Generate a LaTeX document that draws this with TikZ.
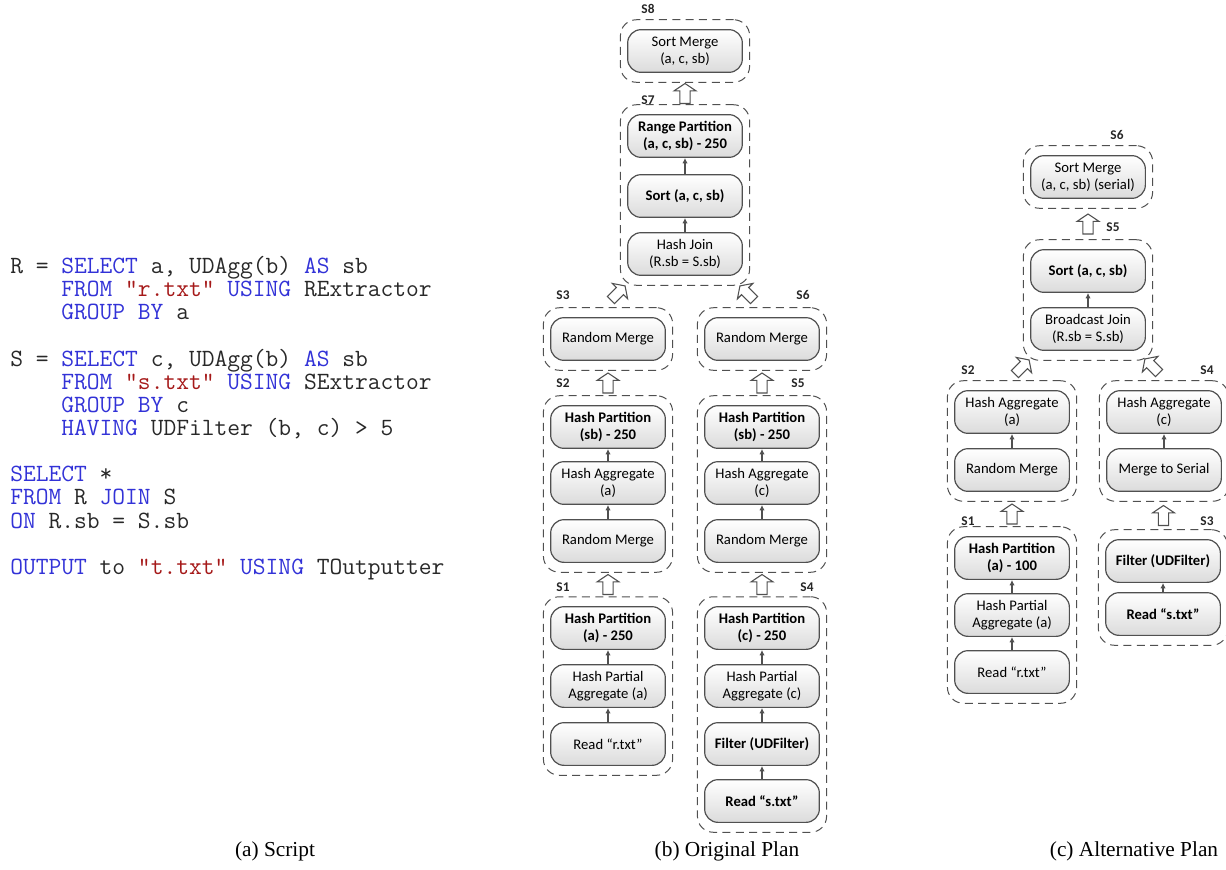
\documentclass[tikz,border=0pt]{standalone}
\usepackage{fontspec}
\setmainfont{Liberation Serif}
\newfontfamily\plainfont{Carlito}
\usepackage{tikz}
\usetikzlibrary{arrows.meta,fit,calc}

\definecolor{kwblue}{RGB}{50,50,215}
\definecolor{strred}{RGB}{165,25,25}
\definecolor{codegray}{RGB}{40,40,40}
\definecolor{edgegray}{RGB}{80,80,80}
\newcommand{\sqlkw}[1]{\textcolor{kwblue}{#1}}
\newcommand{\sqlstr}[1]{\textcolor{strred}{#1}}

\tikzset{
  op/.style = {draw=edgegray, line width=0.9pt, rounded corners=10pt, top color=white, bottom color=black!14,
    minimum width=86pt, minimum height=32pt, inner sep=1pt, align=center, font=\plainfont\fontsize{11}{13}\selectfont},
  opbold/.style = {op, font=\plainfont\bfseries\fontsize{11}{13}\selectfont},
  stage/.style = {draw=edgegray, line width=0.75pt, dash pattern=on 6pt off 4pt, rounded corners=12pt,
    inner xsep=5pt, inner ysep=7pt},
  stagename/.style = {font=\plainfont\bfseries\fontsize{10}{12}\selectfont, text=black!85},
  flow/.style = {-{Latex[length=4pt,width=4pt]}, draw=edgegray, line width=0.8pt},
  shuffle/.pic = {
    \draw[edgegray, fill=white, line width=0.8pt, line join=miter]
      (-3.8pt,-7.5pt) -- (-3.8pt,2pt) -- (-8.2pt,2pt) -- (0pt,7.5pt) -- (8.2pt,2pt)
      -- (3.8pt,2pt) -- (3.8pt,-7.5pt) -- cycle;
  },
  caption/.style = {font=\fontsize{16}{19}\selectfont}
}

\begin{document}
\begin{tikzpicture}[x=0.75pt, y=-0.75pt]
\useasboundingbox (0,0) rectangle (1226,869);

% (a) script
\node[anchor=north west, inner sep=0pt, align=left, text=codegray, font=\ttfamily\fontsize{18.6}{17.36}\selectfont] (script) at (10,256) {%
R = \sqlkw{SELECT} a, UDAgg(b) \sqlkw{AS} sb\\
\phantom{R = }\sqlkw{FROM} \sqlstr{"r.txt"} \sqlkw{USING} RExtractor\\
\phantom{R = }\sqlkw{GROUP BY} a\\[17.36pt]
S = \sqlkw{SELECT} c, UDAgg(b) \sqlkw{AS} sb\\
\phantom{S = }\sqlkw{FROM} \sqlstr{"s.txt"} \sqlkw{USING} SExtractor\\
\phantom{S = }\sqlkw{GROUP BY} c\\
\phantom{S = }\sqlkw{HAVING} UDFilter (b, c) > 5\\[17.36pt]
\sqlkw{SELECT} *\\
\sqlkw{FROM} R \sqlkw{JOIN} S\\
\sqlkw{ON} R.sb = S.sb\\[17.36pt]
\sqlkw{OUTPUT} to \sqlstr{"t.txt"} \sqlkw{USING} TOutputter};

% (b) original plan
\node[op] (b8m) at (685,51) {Sort Merge\\(a, c, sb)};
\node[opbold] (b7p) at (685,136) {Range Partition\\(a, c, sb) - 250};
\node[opbold] (b7s) at (685,196) {Sort (a, c, sb)};
\node[op] (b7j) at (685,254) {Hash Join\\(R.sb = S.sb)};

\node[op] (b3m) at (608,339) {Random Merge};
\node[opbold] (b2p) at (608,427) {Hash Partition\\(sb) - 250};
\node[op] (b2h) at (608,483) {Hash Aggregate\\(a)};
\node[op] (b2m) at (608,541) {Random Merge};
\node[opbold] (b1p) at (608,628) {Hash Partition\\(a) - 250};
\node[op] (b1h) at (608,686) {Hash Partial\\Aggregate (a)};
\node[op] (b1r) at (608,744) {Read “r.txt”};

\node[op] (b6m) at (762,339) {Random Merge};
\node[opbold] (b5p) at (762,427) {Hash Partition\\(sb) - 250};
\node[op] (b5h) at (762,483) {Hash Aggregate\\(c)};
\node[op] (b5m) at (762,541) {Random Merge};
\node[opbold] (b4p) at (762,628) {Hash Partition\\(c) - 250};
\node[op] (b4h) at (762,686) {Hash Partial\\Aggregate (c)};
\node[opbold] (b4f) at (762,744) {Filter (UDFilter)};
\node[opbold] (b4r) at (762,801) {Read “s.txt”};

\draw[flow] (b7s) -- (b7p);
\draw[flow] (b7j) -- (b7s);
\draw[flow] (b2h) -- (b2p);
\draw[flow] (b2m) -- (b2h);
\draw[flow] (b1h) -- (b1p);
\draw[flow] (b1r) -- (b1h);
\draw[flow] (b5h) -- (b5p);
\draw[flow] (b5m) -- (b5h);
\draw[flow] (b4h) -- (b4p);
\draw[flow] (b4f) -- (b4h);
\draw[flow] (b4r) -- (b4f);

\node[stage, fit=(b8m)] (bs8) {};
\node[stage, fit=(b7p)(b7j)] (bs7) {};
\node[stage, fit=(b3m)] (bs3) {};
\node[stage, fit=(b2p)(b2m)] (bs2) {};
\node[stage, fit=(b1p)(b1r)] (bs1) {};
\node[stage, fit=(b6m)] (bs6) {};
\node[stage, fit=(b5p)(b5m)] (bs5) {};
\node[stage, fit=(b4p)(b4r)] (bs4) {};

\node[stagename] (bl8) at (648,9) {S8};
\node[stagename] (bl7) at (648,100) {S7};
\node[stagename] (bl3) at (563,295) {S3};
\node[stagename] (bl6) at (803,295) {S6};
\node[stagename] (bl2) at (563,383) {S2};
\node[stagename] (bl5) at (798,383) {S5};
\node[stagename] (bl1) at (563,587) {S1};
\node[stagename] (bl4) at (807,587) {S4};

\pic at ($(bs7.north)!0.5!(bs8.south)$) {shuffle};
\pic at ($(bs2.north)!0.5!(bs3.south)$) {shuffle};
\pic at ($(bs1.north)!0.5!(bs2.south)$) {shuffle};
\pic at ($(bs5.north)!0.5!(bs6.south)$) {shuffle};
\pic at ($(bs4.north)!0.5!(bs5.south)$) {shuffle};
\pic[rotate=-45] at (618,293) {shuffle};
\pic[rotate=45] at (747,293) {shuffle};

% (c) alternative plan
\node[op] (c6m) at (1088,177) {Sort Merge\\(a, c, sb) (serial)};
\node[opbold] (c5s) at (1088,271) {Sort (a, c, sb)};
\node[op] (c5j) at (1088,329) {Broadcast Join\\(R.sb = S.sb)};

\node[op] (c2h) at (1012,412) {Hash Aggregate\\(a)};
\node[op] (c2m) at (1012,470) {Random Merge};
\node[opbold] (c1p) at (1012,558) {Hash Partition\\(a) - 100};
\node[op] (c1h) at (1012,615) {Hash Partial\\Aggregate (a)};
\node[op] (c1r) at (1012,672) {Read “r.txt”};

\node[op] (c4h) at (1164,412) {Hash Aggregate\\(c)};
\node[op] (c4m) at (1164,470) {Merge to Serial};
\node[opbold] (c3f) at (1163,561) {Filter (UDFilter)};
\node[opbold] (c3r) at (1163,614) {Read “s.txt”};

\draw[flow] (c5j) -- (c5s);
\draw[flow] (c2m) -- (c2h);
\draw[flow] (c1h) -- (c1p);
\draw[flow] (c1r) -- (c1h);
\draw[flow] (c4m) -- (c4h);
\draw[flow] (c3r) -- (c3f);

\node[stage, fit=(c6m)] (cs6) {};
\node[stage, fit=(c5s)(c5j)] (cs5) {};
\node[stage, fit=(c2h)(c2m)] (cs2) {};
\node[stage, fit=(c1p)(c1r)] (cs1) {};
\node[stage, fit=(c4h)(c4m)] (cs4) {};
\node[stage, fit=(c3f)(c3r)] (cs3) {};

\node[stagename] (cl6) at (1117,135) {S6};
\node[stagename] (cl5) at (1113,227) {S5};
\node[stagename] (cl2) at (968,370) {S2};
\node[stagename] (cl4) at (1207,370) {S4};
\node[stagename] (cl1) at (968,521) {S1};
\node[stagename] (cl3) at (1207,521) {S3};

\pic at ($(cs5.north)!0.5!(cs6.south)$) {shuffle};
\pic at ($(cs1.north)!0.5!(cs2.south)$) {shuffle};
\pic at ($(cs3.north)!0.5!(cs4.south)$) {shuffle};
\pic[rotate=-45] at (1022,367) {shuffle};
\pic[rotate=45] at (1152,366) {shuffle};

% captions
\node[caption] (capa) at (275,851) {(a) Script};
\node[caption] (capb) at (727,851) {(b) Original Plan};
\node[caption] (capc) at (1134,851) {(c) Alternative Plan};

\end{tikzpicture}
\end{document}
